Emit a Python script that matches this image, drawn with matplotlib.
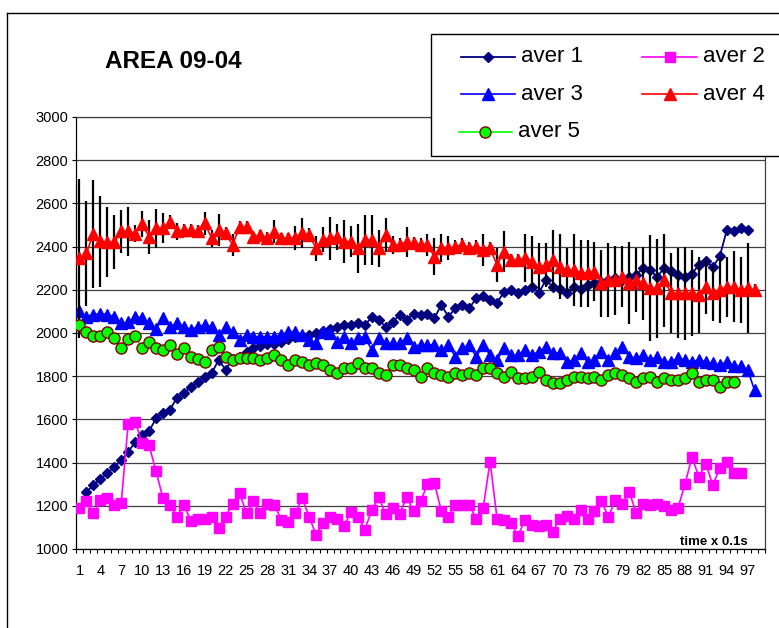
import numpy as np
import matplotlib
matplotlib.use("Agg")
import matplotlib.pyplot as plt
from matplotlib.lines import Line2D
from matplotlib.patches import Rectangle

plt.rcParams['font.family'] = ['Liberation Sans', 'DejaVu Sans']

nan = float('nan')
x_tick_labels = ['1', '4', '7', '10', '13', '16', '19', '22', '25', '28', '31', '34',
                 '37', '40', '43', '46', '49', '52', '55', '58', '61', '64', '67', '70',
                 '73', '76', '79', '82', '85', '88', '91', '94', '97']
y_ticks = [1000, 1200, 1400, 1600, 1800, 2000, 2200, 2400, 2600, 2800, 3000]

aver1 = [nan, 1265, 1295, 1325, 1350, 1380, 1410, 1450, 1495, 1530, 1545,
         1605, 1630, 1645, 1700, 1720, 1750, 1775, 1795, 1815, 1875, 1830,
         1880, 1890, 1910, 1930, 1940, 1950, 1950, 1960, 1970, 1980, 1985, 1990, 2000, 2010, 2020,
         2030, 2035, 2035, 2045, 2035, 2075, 2060, 2030, 2050, 2085, 2060, 2090,
         2085, 2090, 2070, 2130, 2075, 2115, 2130, 2115, 2160, 2170, 2155, 2140, 2190, 2200, 2185, 2200,
         2215, 2185, 2245, 2215, 2205, 2185, 2215, 2205, 2220, 2230, 2235, 2245, 2255, 2245, 2260, 2270,
         2300, 2290, 2260, 2300, 2285, 2270, 2260, 2275, 2315, 2335, 2305, 2355, 2475, 2470, 2485, 2475]

aver2 = [1190, 1220, 1165, 1225, 1235, 1205, 1215, 1580, 1590, 1490, 1480, 1360, 1235, 1205, 1150, 1205, 1130,
         1140, 1140, 1150, 1095, 1150, 1210, 1260, 1165, 1220, 1165, 1210, 1205, 1135, 1125, 1165, 1235, 1150,
         1065, 1120, 1150, 1140, 1105, 1170, 1150, 1090, 1180, 1240, 1160, 1190, 1160, 1240, 1175, 1220,
         1300, 1305, 1175, 1150, 1205, 1205, 1205, 1140, 1190, 1405, 1140, 1135, 1120, 1060, 1135, 1110,
         1105, 1110, 1080, 1140, 1155, 1140, 1180, 1140, 1175, 1220, 1150, 1225, 1210, 1265, 1165, 1210,
         1205, 1210, 1200, 1180, 1190, 1300, 1425, 1335, 1395, 1295, 1375, 1405, 1350, 1350]

aver3 = [2100, 2075, 2085, 2090, 2085, 2075, 2045, 2050, 2075, 2070, 2045, 2020, 2070, 2030, 2045, 2030, 2015,
         2029, 2036, 2029, 1991, 2029, 2006, 1968, 1991, 1983, 1983, 1983, 1983, 1991, 2006, 2006, 1991,
         1968, 1952, 2006, 1999, 1960, 1983, 1952, 1976, 1983, 1921, 1976, 1952, 1952, 1952, 1976, 1937, 1945,
         1945, 1945, 1921, 1945, 1890, 1929, 1945, 1890, 1945, 1898, 1875, 1929, 1898, 1898, 1921, 1898,
         1913, 1937, 1906, 1906, 1867, 1875, 1906, 1867, 1875, 1913, 1875, 1906, 1937, 1890, 1883, 1898,
         1875, 1890, 1867, 1867, 1883, 1875, 1867, 1875, 1867, 1860, 1852, 1867, 1845, 1845, 1830, 1735]

aver4 = [2345, 2370, 2460, 2425, 2420, 2420, 2470, 2470, 2460, 2505, 2445, 2485, 2485, 2515, 2470, 2475, 2475,
         2470, 2508, 2439, 2477, 2462, 2408, 2492, 2492, 2446, 2454, 2439, 2469, 2439, 2439, 2439, 2462, 2454,
         2392, 2431, 2439, 2446, 2423, 2423, 2392, 2431, 2431, 2392, 2454, 2408, 2408, 2423, 2415, 2408,
         2408, 2353, 2392, 2392, 2400, 2408, 2392, 2400, 2385, 2392, 2315, 2377, 2338, 2338, 2346, 2330,
         2307, 2315, 2338, 2307, 2292, 2292, 2276, 2276, 2284, 2230, 2245, 2245, 2261, 2230, 2245, 2230, 2207,
         2207, 2245, 2184, 2184, 2184, 2184, 2176, 2214, 2184, 2199, 2214, 2214, 2199, 2207, 2199]

aver4_err = [366, 243, 250, 210, 162, 124, 100, 112, 40, 62, 77, 90, 70, 30, 40, 30, 30,
             30, 54, 40, 73, 30, 50, 25, 25, 25, 25, 30, 54, 25, 25, 55, 70, 30,
             58, 58, 100, 60, 100, 73, 112, 115, 115, 85, 80, 40, 30, 70, 30, 30,
             50, 85, 65, 55, 30, 30, 30, 30, 75, 30, 80, 95, 30, 30, 112, 120,
             108, 100, 140, 150, 100, 165, 155, 155, 135, 155, 170, 160, 140, 190, 150, 170, 245,
             230, 215, 185, 208, 215, 200, 177, 125, 127, 154, 140, 165, 155, 208, 30]

aver5 = [2035, 2005, 1985, 1985, 2005, 1975, 1930, 1970, 1985, 1930, 1960, 1930, 1920, 1945, 1905, 1930, 1890,
         1880, 1867, 1921, 1937, 1890, 1875, 1883, 1883, 1883, 1875, 1883, 1898, 1875, 1852, 1875, 1867,
         1852, 1860, 1852, 1829, 1813, 1837, 1837, 1860, 1837, 1837, 1813, 1806, 1852, 1852, 1837, 1829, 1798,
         1837, 1813, 1806, 1798, 1813, 1806, 1813, 1806, 1837, 1837, 1813, 1798, 1821, 1790, 1790, 1798,
         1821, 1783, 1767, 1767, 1783, 1798, 1798, 1790, 1798, 1783, 1806, 1813, 1806, 1790, 1775, 1790,
         1798, 1775, 1790, 1783, 1783, 1790, 1813, 1775, 1783, 1783, 1752, 1775, 1775]

series_names = ['aver 1', 'aver 2', 'aver 3', 'aver 4', 'aver 5']

W, H = 779, 628
fig = plt.figure(figsize=(W / 100, H / 100), dpi=100)


def fx(px):
    return px / W


def fy(py):
    return 1 - py / H


ax = fig.add_axes([fx(76), fy(549), fx(765) - fx(76), fy(117) - fy(549)])

styles = {
    'aver 1': dict(color='#000080', marker='D', markersize=5.2, markerfacecolor='#000080',
                   markeredgecolor='#000080', lw=1.3),
    'aver 2': dict(color='#FF00FF', marker='s', markersize=7, markerfacecolor='#FF00FF',
                   markeredgecolor='#FF00FF', lw=1.2),
    'aver 3': dict(color='#0000FF', marker='^', markersize=8, markerfacecolor='#0000FF',
                   markeredgecolor='#0000FF', lw=1.2),
    'aver 4': dict(color='#FF0000', marker='^', markersize=8, markerfacecolor='#FF0000',
                   markeredgecolor='#FF0000', lw=1.2),
    'aver 5': dict(color='#00FF00', marker='o', markersize=8, markerfacecolor='#00FF00',
                   markeredgecolor='#800000', markeredgewidth=1.0, lw=1.2),
}

data = [aver1, aver2, aver3, aver4, aver5]
zs = [3, 3.1, 3.2, 3.4, 3.5]
for name, vals, z in zip(series_names, data, zs):
    xs = np.arange(1, len(vals) + 1)
    if name == 'aver 4':
        ax.errorbar(xs, vals, yerr=aver4_err, fmt='none', ecolor='black',
                    elinewidth=1.6, capsize=0, zorder=3.3)
    ax.plot(xs, vals, zorder=z, **styles[name])

ax.set_xlim(0.5, 99.5)
ax.set_ylim(1000, 3000)
ax.set_yticks(y_ticks)
ax.set_yticklabels([str(v) for v in y_ticks], fontsize=10.5)
ax.set_xticks(np.arange(1, 98, 3))
ax.set_xticklabels(x_tick_labels, fontsize=10.5)
ax.set_xticks(np.arange(0.5, 100, 1), minor=True)
ax.tick_params(axis='x', which='major', length=0, pad=10.5)
ax.tick_params(axis='x', which='minor', length=3, width=0.8, direction='out', color='black')
ax.tick_params(axis='y', which='major', length=3, width=0.8, direction='out', pad=2.5)
ax.yaxis.grid(True, color='#404040', lw=0.9)
ax.set_axisbelow(True)
for sp in ax.spines.values():
    sp.set_color('#404040')
    sp.set_linewidth(0.9)
ax.spines['left'].set_color('black')
ax.spines['bottom'].set_color('black')

# outer chart frame
fig.add_artist(Line2D([fx(7), fx(7)], [fy(13), fy(640)], transform=fig.transFigure,
                      color='black', lw=1.0))
fig.add_artist(Line2D([fx(7), fx(790)], [fy(13), fy(13)], transform=fig.transFigure,
                      color='black', lw=1.0))

# title
fig.text(fx(173), fy(62), 'AREA 09-04', ha='center', va='center', fontsize=17.5,
         fontweight='bold')

# axis note
fig.text(fx(748), fy(542), 'time x 0.1s', ha='right', va='center', fontsize=9.5,
         fontweight='bold')

# legend box
fig.add_artist(Rectangle((fx(431), fy(156)), fx(800) - fx(431), fy(34) - fy(156),
                         transform=fig.transFigure, facecolor='white', edgecolor='black',
                         lw=1.0, zorder=10))
legend_pos = {
    'aver 1': (461, 515, 57),
    'aver 2': (642, 697, 57),
    'aver 3': (461, 515, 94),
    'aver 4': (642, 697, 94),
    'aver 5': (459, 512, 132),
}
for name in series_names:
    x1, x2, yy = legend_pos[name]
    st = dict(styles[name])
    fig.add_artist(Line2D([fx(x1), fx((x1 + x2) / 2), fx(x2)], [fy(yy)] * 3,
                          transform=fig.transFigure, markevery=[1], zorder=11, **st))
    fig.text(fx(x2 + 6), fy(yy), name, ha='left', va='center', fontsize=16, zorder=12)

fig.savefig('out.png', dpi=100)
